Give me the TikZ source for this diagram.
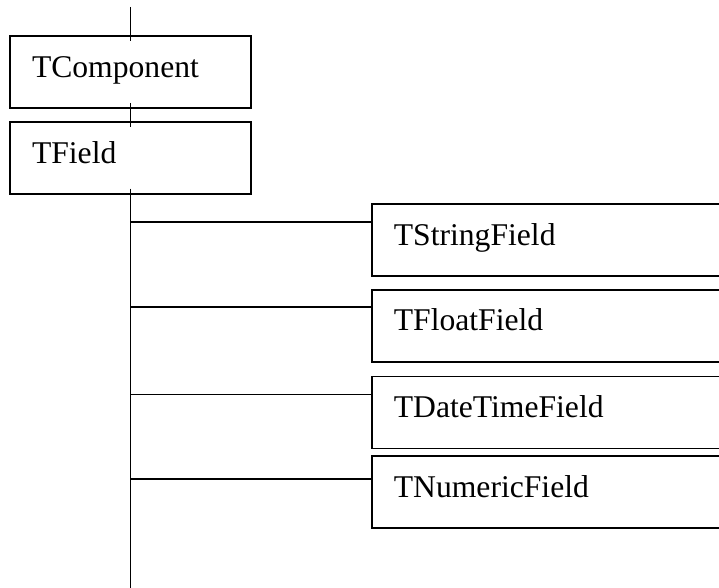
\documentclass[tikz,border=0pt]{standalone}
\usepackage{fontspec}
\setmainfont{Liberation Serif}
\usepackage{tikz}
\usetikzlibrary{positioning, calc}
\tikzset{
    classbox/.style={
        rectangle,
        draw=black,
        line width=1pt,
        minimum height=1.44cm,
        inner xsep=0.44cm,
        inner ysep=0pt,
        align=left,
        text height=12pt,
        text depth=6pt,
        font=\fontsize{18}{21}\selectfont
    },
    base/.style={classbox, text width=3.94cm},
    leaf/.style={classbox, text width=6.4cm},
    link/.style={draw=black, line width=1pt}
}

\begin{document}
\begin{tikzpicture}

\useasboundingbox (0,0) rectangle (14.38,-11.76);
\clip (0,0) rectangle (14.38,-11.76);

% Base classes
\node[base] (tcomp) at (2.61,-1.44) {TComponent};
\node[base, below=0.24cm of tcomp] (tfield) {TField};

% Field classes
\node[leaf, anchor=north west] (tstring) at (7.42,-4.06) {TStringField};
\node[leaf, below=0.24cm of tstring] (tfloat) {TFloatField};
\node[leaf, below=0.26cm of tfloat] (tdate) {TDateTimeField};
\node[leaf, below=0.12cm of tdate] (tnum) {TNumericField};

% Trunk
\coordinate (top) at (2.61,-0.14);
\coordinate (bottom) at (2.61,-11.76);
\draw[link] (top) -- ($(tcomp.north)+(0,-0.12)$);
\draw[link] ($(tcomp.south)+(0,0.12)$) -- ($(tfield.north)+(0,-0.12)$);
\draw[link] ($(tfield.south)+(0,0.12)$) -- (tfield.south |- bottom);

% Branches
\foreach \n/\d in {tstring/0.38, tfloat/0.36, tdate/0.38, tnum/0.48}{
    \coordinate (\n-in) at ($(\n.north west)+(0,-\d)$);
    \draw[link] (tfield.south |- \n-in) -- (\n-in);
}

\end{tikzpicture}
\end{document}
